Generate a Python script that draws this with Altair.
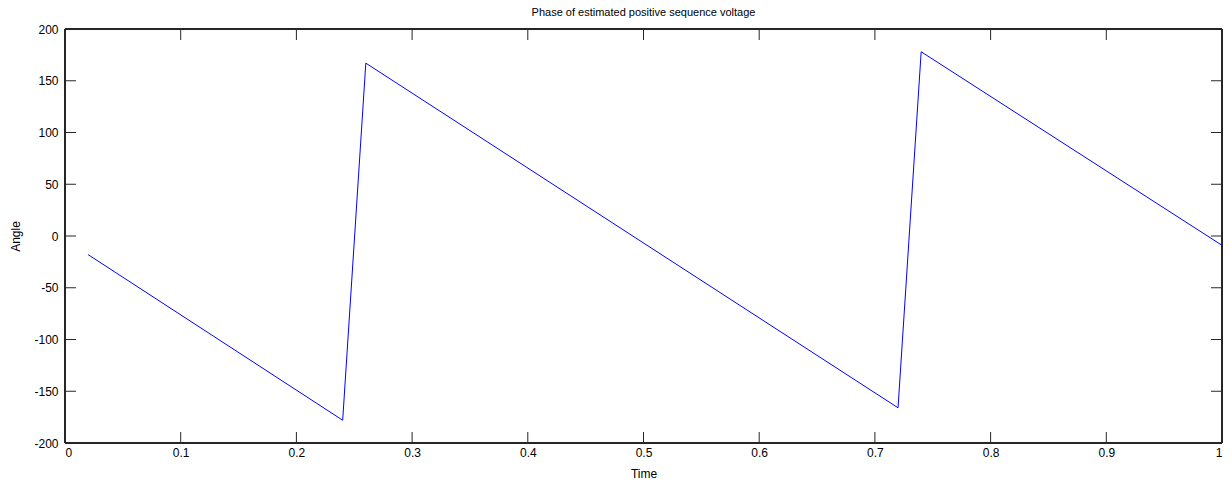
import altair as alt
import pandas as pd

# Phase angle of the estimated positive-sequence voltage (vertices of the sawtooth)
time_s = [0.02, 0.24, 0.26, 0.72, 0.74, 1.00]
angle_deg = [-18, -178, 167, -166, 178, -9]

x_ticks = [0, 0.1, 0.2, 0.3, 0.4, 0.5, 0.6, 0.7, 0.8, 0.9, 1.0]
y_ticks = [-200, -150, -100, -50, 0, 50, 100, 150, 200]

W, H = 1157, 414
TICK = 11
FONT = "Liberation Sans"
AXIS_COLOR = "#262626"

df = pd.DataFrame({"t": time_s, "angle": angle_deg})
xt = pd.DataFrame({"t": x_ticks})
yt = pd.DataFrame({"angle": y_ticks})

x_scale = alt.Scale(domain=[0, 1], nice=False, zero=False)
y_scale = alt.Scale(domain=[-200, 200], nice=False, zero=False)

# plain number text, with an ASCII hyphen for negatives
plain = "'' + (round(datum.value * 100) / 100)"

x_axis = alt.Axis(values=x_ticks, ticks=False, grid=False, domain=False,
                  labelPadding=4, labelFontSize=12, labelFont=FONT, labelColor="#000",
                  title="Time", titleFontSize=12, titleFont=FONT, titleFontWeight="normal",
                  titleColor="#000", titlePadding=10, labelExpr=plain)
y_axis = alt.Axis(values=y_ticks, ticks=False, grid=False, domain=False,
                  labelPadding=7, labelFontSize=12, labelFont=FONT, labelColor="#000",
                  title="Angle", titleFontSize=12, titleFont=FONT, titleFontWeight="normal",
                  titleColor="#000", titlePadding=11, labelExpr=plain)

line = alt.Chart(df).mark_line(color="#0000ff", strokeWidth=1).encode(
    x=alt.X("t:Q", scale=x_scale, axis=x_axis),
    y=alt.Y("angle:Q", scale=y_scale, axis=y_axis),
)

# inward tick marks on all four sides of the box
tick_style = dict(color=AXIS_COLOR, strokeWidth=1)
bottom_ticks = alt.Chart(xt).mark_rule(**tick_style).encode(
    x=alt.X("t:Q", scale=x_scale), y=alt.value(H), y2=alt.value(H - TICK))
top_ticks = alt.Chart(xt).mark_rule(**tick_style).encode(
    x=alt.X("t:Q", scale=x_scale), y=alt.value(0), y2=alt.value(TICK))
left_ticks = alt.Chart(yt).mark_rule(**tick_style).encode(
    y=alt.Y("angle:Q", scale=y_scale), x=alt.value(0), x2=alt.value(TICK))
right_ticks = alt.Chart(yt).mark_rule(**tick_style).encode(
    y=alt.Y("angle:Q", scale=y_scale), x=alt.value(W), x2=alt.value(W - TICK))

# box frame drawn as rules so it stays crisp and dark
frame = alt.layer(
    alt.Chart(xt).mark_rule(**tick_style).encode(x=alt.value(0), y=alt.value(0), y2=alt.value(H)),
    alt.Chart(xt).mark_rule(**tick_style).encode(x=alt.value(W), y=alt.value(0), y2=alt.value(H)),
    alt.Chart(xt).mark_rule(**tick_style).encode(y=alt.value(0), x=alt.value(0), x2=alt.value(W)),
    alt.Chart(xt).mark_rule(**tick_style).encode(y=alt.value(H), x=alt.value(0), x2=alt.value(W)),
)

chart = alt.layer(line, bottom_ticks, top_ticks, left_ticks, right_ticks, frame).properties(
    width=W,
    height=H,
    title=alt.TitleParams("Phase of estimated positive sequence voltage",
                          fontSize=11, font=FONT, fontWeight="normal",
                          color="#000", offset=5),
    autosize=alt.AutoSizeParams(type="none"),
    padding={"left": 65, "top": 29, "right": 9, "bottom": 38},
).configure_view(
    stroke=None
).configure(background="white")

chart.save("out.html", embed_options={"renderer": "svg", "actions": False})
